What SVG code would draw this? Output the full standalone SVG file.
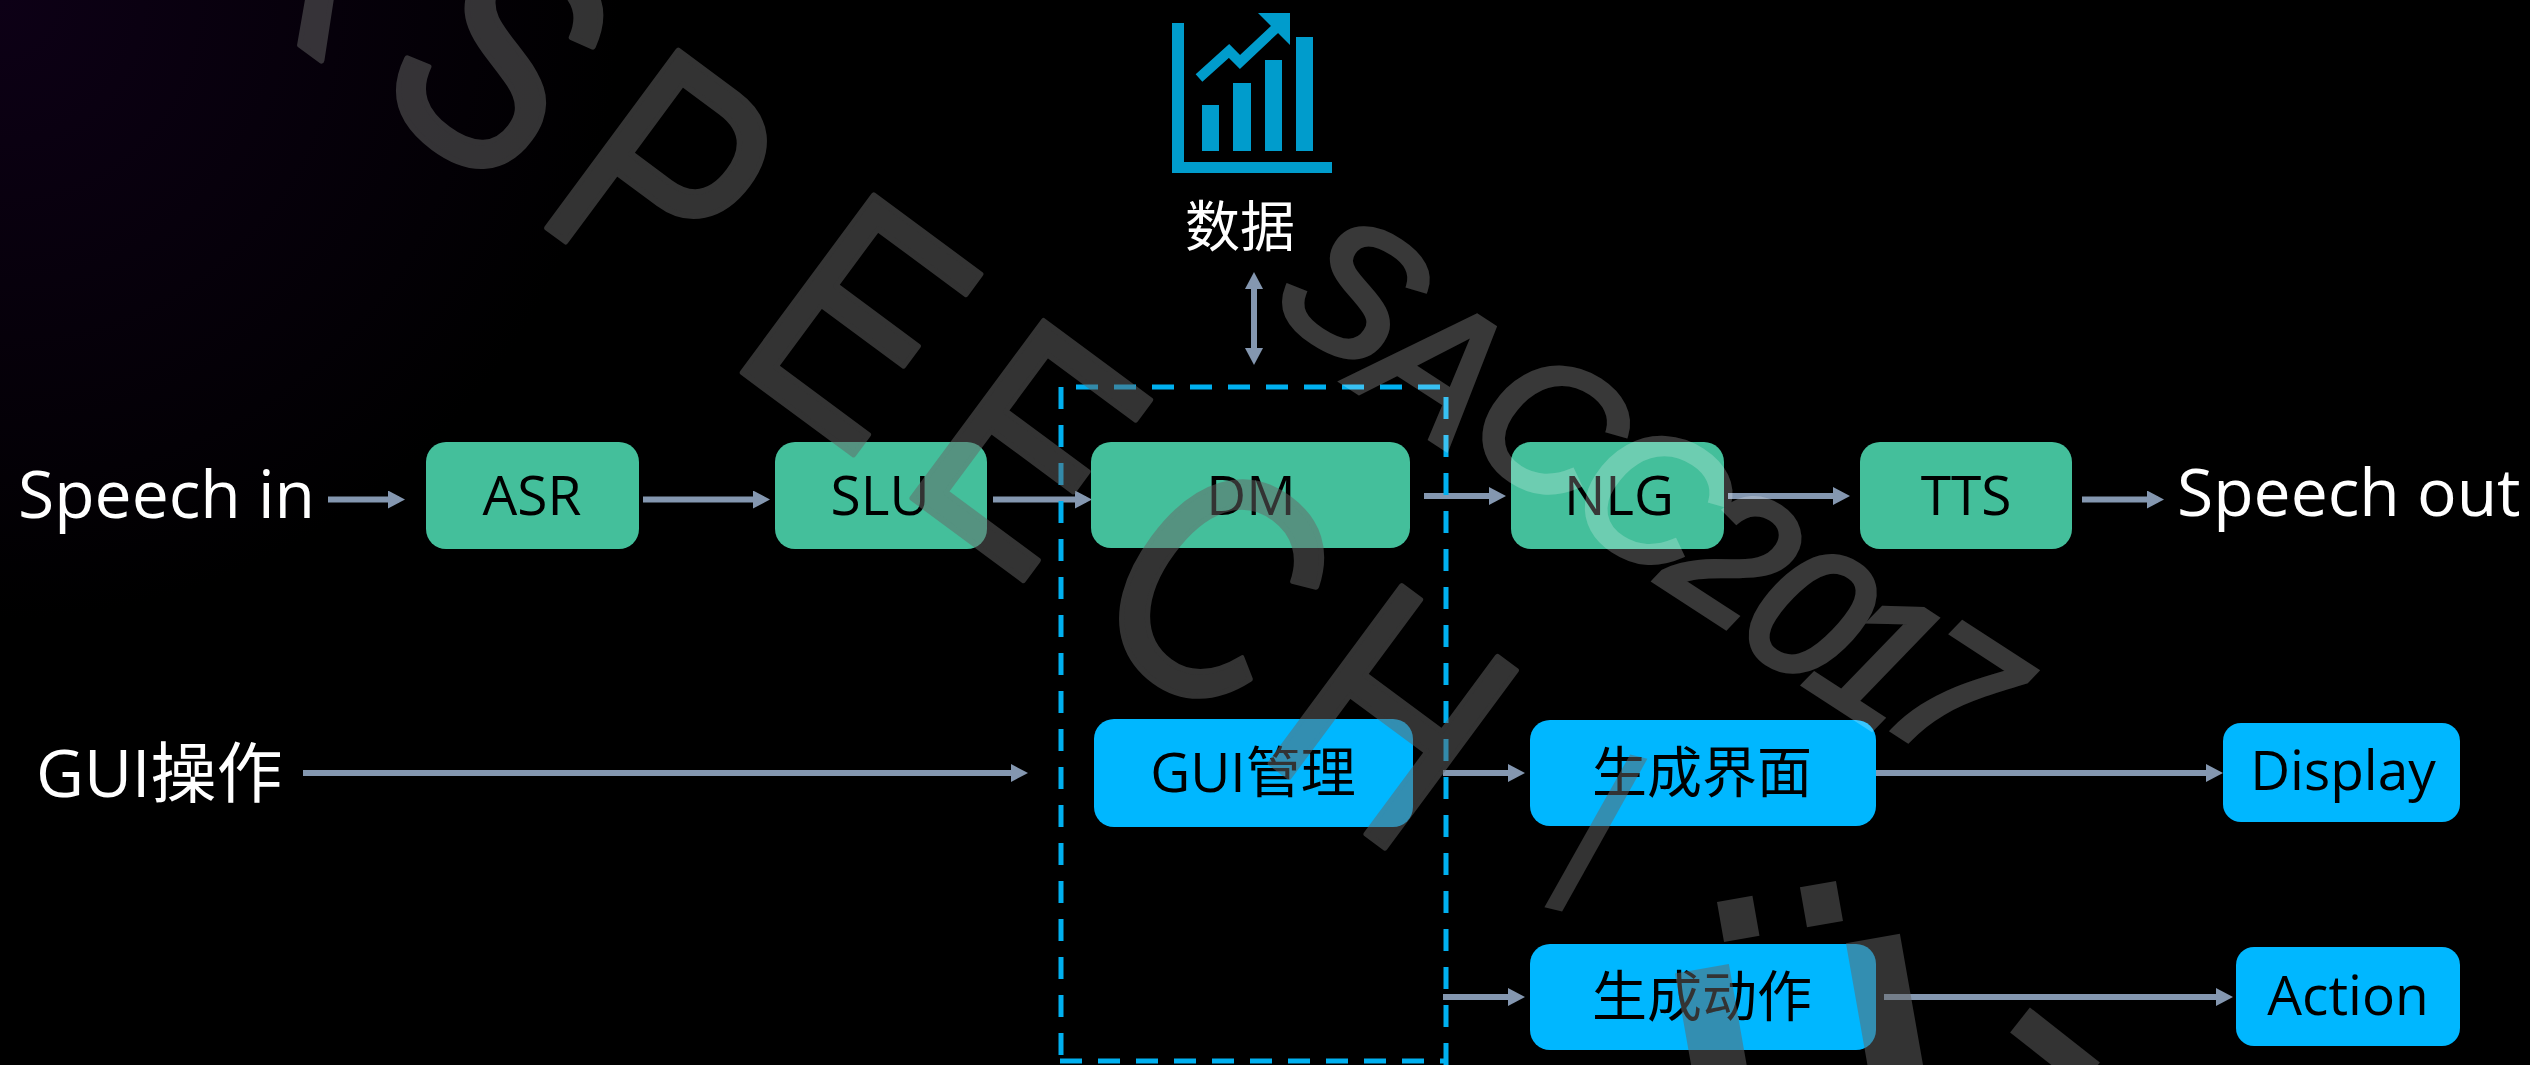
<svg xmlns="http://www.w3.org/2000/svg" width="2530" height="1065" viewBox="0 0 2530 1065">
<style>
text{font-family:"Open Sans","Noto Sans CJK SC",sans-serif}
.lbl{font-size:55px;fill:#000;text-anchor:middle}
.big{font-size:66px;fill:#fff}
.g{fill:#44bf9b}
.b{fill:#00b7ff}
.c{stroke:#8497b0;stroke-width:6;fill:none;marker-end:url(#ah)}
.d{stroke:#00b0f0;stroke-width:5;stroke-dasharray:22 16;fill:none}
.ic{fill:#009ccc}
.wm1{font-family:"Liberation Sans",sans-serif;font-size:320px;fill:#666;stroke:#666;stroke-width:6;stroke-linejoin:round;opacity:.5}
.wm2{font-family:"Liberation Sans",sans-serif;font-size:185px;font-style:italic;fill:#fff;stroke:#fff;stroke-width:6;opacity:.22;text-anchor:middle}
</style>
<defs>
<marker id="ah" markerUnits="userSpaceOnUse" markerWidth="18" markerHeight="18" refX="11" refY="9" orient="auto-start-reverse"><path d="M0 0L17 9L0 18Z" fill="#8497b0"/></marker>
<radialGradient id="bg" gradientUnits="userSpaceOnUse" cx="0" cy="0" r="620"><stop offset="0" stop-color="#0d0016"/><stop offset="1" stop-color="#000"/></radialGradient>
</defs>
<rect width="2530" height="1065" fill="#000"/>
<rect width="620" height="620" fill="url(#bg)"/>
<g id="connectors">
<line class="c" x1="328" y1="499.5" x2="399" y2="499.5"/>
<line class="c" x1="643" y1="499.5" x2="764" y2="499.5"/>
<line class="c" x1="993" y1="499.5" x2="1086" y2="499.5"/>
<line class="c" x1="1424" y1="496" x2="1500" y2="496"/>
<line class="c" x1="1728" y1="496" x2="1844" y2="496"/>
<line class="c" x1="2082" y1="499.5" x2="2158" y2="499.5"/>
<line class="c" x1="303" y1="773" x2="1022" y2="773"/>
<line class="c" x1="1443" y1="773" x2="1519" y2="773"/>
<line class="c" x1="1876" y1="773" x2="2217" y2="773"/>
<line class="c" x1="1443" y1="997" x2="1519" y2="997"/>
<line class="c" x1="1884" y1="997" x2="2227" y2="997"/>
<line class="c" x1="1254" y1="278" x2="1254" y2="359" style="marker-start:url(#ah)"/>
</g>
<g id="dm-box">
<line class="d" x1="1061" y1="387" x2="1061" y2="1061"/>
<line class="d" x1="1076" y1="387" x2="1441" y2="387"/>
<line class="d" x1="1446" y1="397" x2="1446" y2="1065"/>
<line class="d" x1="1060" y1="1061" x2="1446" y2="1061"/>
</g>
<g id="data-icon">
<path class="ic" d="M1172 23h12v139h148v11h-160Z"/>
<rect class="ic" x="1202" y="105" width="17" height="46"/>
<rect class="ic" x="1233" y="83" width="18" height="68"/>
<rect class="ic" x="1265" y="60" width="17" height="91"/>
<rect class="ic" x="1296" y="37" width="17" height="114"/>
<path d="M1199 78L1229 51L1240 62L1276 28" fill="none" stroke="#009ccc" stroke-width="10"/>
<path class="ic" d="M1258 13H1290V45Z"/>
</g>
<g id="data-label"><text x="1240" y="246" style="font-size:55px;fill:#fff;text-anchor:middle">数据</text></g>
<g id="speech-in"><text class="big" x="18" y="518">Speech in</text></g>
<g id="gui-op"><text class="big" x="36" y="797">GUI操作</text></g>
<g id="speech-out"><text class="big" x="2177" y="516">Speech out</text></g>
<g id="asr"><rect class="g" x="426" y="442" width="213" height="107" rx="20"/><text class="lbl" x="532" y="515">ASR</text></g>
<g id="slu"><rect class="g" x="775" y="442" width="212" height="107" rx="20"/><text class="lbl" x="880" y="515">SLU</text></g>
<g id="dm"><rect class="g" x="1091" y="442" width="319" height="106" rx="20"/><text class="lbl" x="1251" y="515">DM</text></g>
<g id="nlg"><rect class="g" x="1511" y="442" width="213" height="107" rx="20"/><text class="lbl" x="1619" y="515">NLG</text></g>
<g id="tts"><rect class="g" x="1860" y="442" width="212" height="107" rx="20"/><text class="lbl" x="1966" y="515">TTS</text></g>
<g id="gui-mgr"><rect class="b" x="1094" y="719" width="319" height="108" rx="20"/><text class="lbl" x="1253" y="792">GUI管理</text></g>
<g id="gen-ui"><rect class="b" x="1530" y="720" width="346" height="106" rx="20"/><text class="lbl" x="1702" y="792">生成界面</text></g>
<g id="gen-action"><rect class="b" x="1530" y="944" width="346" height="106" rx="20"/><text class="lbl" x="1702" y="1016">生成动作</text></g>
<g id="display"><rect class="b" x="2223" y="723" width="237" height="99" rx="18"/><text class="lbl" x="2343" y="790">Display</text></g>
<g id="action"><rect class="b" x="2236" y="947" width="224" height="99" rx="18"/><text class="lbl" x="2348" y="1015">Action</text></g>
<g id="watermark">
<text class="wm1" transform="translate(530 215) rotate(36.5) scale(.8 1)" x="-1644 -1370 -1096 -822 -540 -255 0 304 568 850 1125">INTERSPEECH</text>
<text class="wm1" transform="translate(1545 905) rotate(14)" style="font-size:230px;stroke-width:0">/</text>
<text class="wm1" transform="translate(1833 1211) rotate(-10)" style="font-size:380px;font-weight:bold;text-anchor:middle;stroke-width:0">Ü</text>
<line x1="2020" y1="1020" x2="2090" y2="1075" stroke="#666" stroke-opacity=".5" stroke-width="32"/>
<text class="wm2" transform="translate(1355 288) rotate(33)" x="0 112 239 363 420 464 558 640 722" y="66 85 74 77 77 82 88 88 78">SACC 2017</text>
</g>
</svg>
